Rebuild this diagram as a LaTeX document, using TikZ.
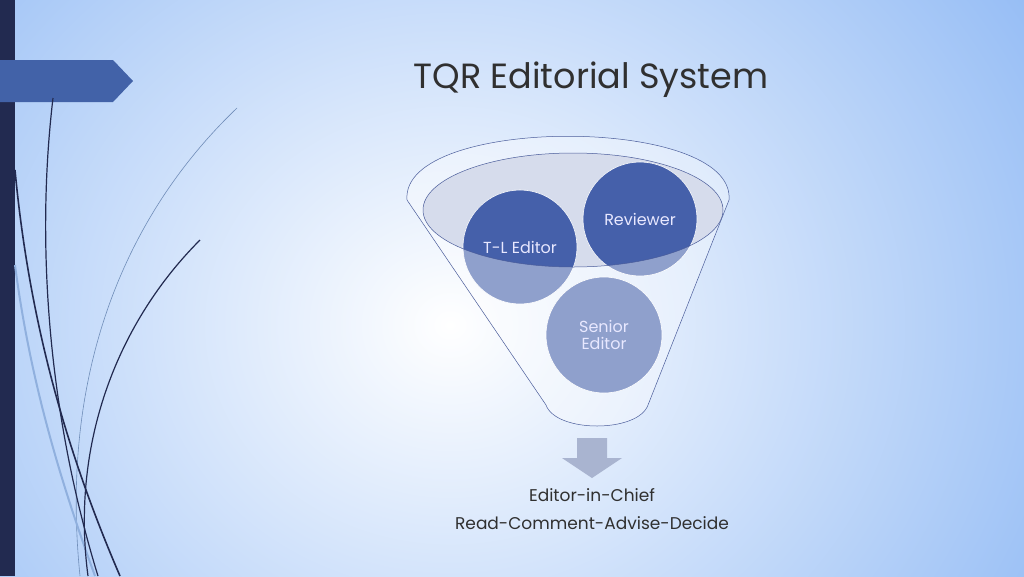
\documentclass[tikz,border=0pt]{standalone}
\usepackage{fontspec}
\setmainfont{Poppins}
\begin{document}
\begin{tikzpicture}[x=1pt,y=-1pt,
  circ/.style={circle,minimum size=114pt,inner sep=0pt,text=white!85!blue!60!white,font=\fontsize{16}{19}\selectfont,align=center},
  line/.style={line cap=round}]
\definecolor{bgedge}{HTML}{94BCF5}
\definecolor{bar}{HTML}{222A50}
\definecolor{tab}{HTML}{4262A8}
\definecolor{cdark}{HTML}{4560AA}
\definecolor{clight}{HTML}{8FA0CC}
\definecolor{inner}{HTML}{D6DCEC}
\definecolor{outl}{HTML}{4A5C9A}
\definecolor{arr}{HTML}{A9B4D0}
\definecolor{txt}{HTML}{303030}
\useasboundingbox (0,0) rectangle (1024,576);
\shade[inner color=white, outer color=bgedge] (-250,-300) rectangle (1150,950);
\fill[bar] (0,0) rectangle (15,576);
\fill[tab] (0,60) -- (113,60) -- (133,81) -- (113,102) -- (0,102) -- cycle;
% curves
\draw[line width=0.6pt, black!25!bgedge] (237,108) .. controls (120,220) and (60,380) .. (80,576);
\draw[line width=2pt, bgedge!80!gray] (15,265) .. controls (30,380) and (60,480) .. (95,576);
\draw[line width=1.2pt, bar] (53,98) .. controls (35,250) and (50,420) .. (98,576);
\draw[line width=1.6pt, bar] (15,170) .. controls (30,330) and (70,460) .. (120,576);
\draw[line width=1.2pt, bar] (200,240) .. controls (120,320) and (70,440) .. (88,576);
% title
\node[text=txt, font=\fontsize{35}{40}\selectfont] (title) at (591,80) {TQR Editorial System};
% funnel
\draw[outl, line width=0.5pt, fill=white, fill opacity=0.35] (407,200) .. controls (400,115) and (736,115) .. (729,200)
  -- (648,405) .. controls (638,433) and (556,433) .. (546,405) -- cycle;
\fill[inner] (573,210) ellipse [x radius=150, y radius=57];
\fill[clight] (520,247) circle (57) (640,219) circle (57) (604,335) circle (58);
\begin{scope}
\clip (573,210) ellipse [x radius=150, y radius=57];
\fill[cdark] (520,247) circle (57) (640,219) circle (57);
\end{scope}
\draw[white, line width=0.6pt] (520,247) circle (57) (640,219) circle (57) (604,335) circle (58);
\draw[outl, line width=0.5pt] (573,210) ellipse [x radius=150, y radius=57];
\node[circ] (tl) at (520,247) {T-L Editor};
\node[circ] (rv) at (640,219) {Reviewer};
\node[circ] (se) at (604,335) {Senior\\[-2pt]Editor};
\fill[arr] (577,438) -- (607,438) -- (607,458) -- (622,458) -- (592,478) -- (562,458) -- (577,458) -- cycle;
\node[text=txt, font=\fontsize{17}{20}\selectfont] (eic) at (592,495) {Editor-in-Chief};
\node[text=txt, font=\fontsize{17}{20}\selectfont] (rcad) at (592,523) {Read-Comment-Advise-Decide};
\end{tikzpicture}
\end{document}
